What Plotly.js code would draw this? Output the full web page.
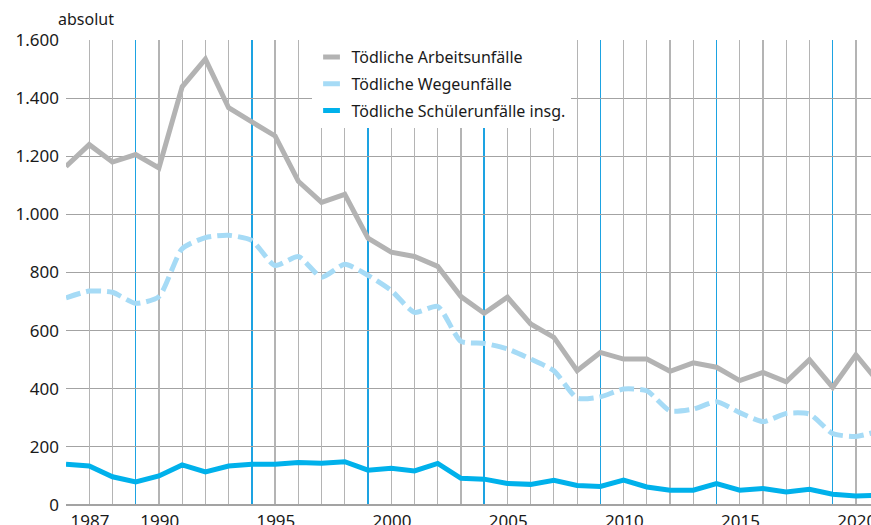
<!DOCTYPE html>
<html>
<head>
<meta charset="utf-8">
<script src="https://cdn.plot.ly/plotly-3.0.1.min.js"></script>
<style>html,body{margin:0;padding:0;background:#fff;}#chart{width:871px;height:525px;}</style>
</head>
<body>
<div id="chart"></div>
<script>
const years = [1987,1988,1989,1990,1991,1992,1993,1994,1995,1996,1997,1998,1999,2000,2001,2002,2003,2004,2005,2006,2007,2008,2009,2010,2011,2012,2013,2014,2015,2016,2017,2018,2019,2020,2021,2022];
const arbeitsunfaelle = [1165,1240,1180,1206,1160,1439,1534,1367,1318,1270,1114,1041,1069,918,870,855,821,717,660,715,623,577,462,525,502,502,460,489,474,428,456,424,500,405,517,420];
const wegeunfaelle = [713,736,732,694,717,882,920,928,910,824,855,784,828,790,738,663,683,563,556,537,502,462,368,372,399,393,324,330,355,318,287,315,313,246,236,255];
const schuelerunfaelle = [140,134,97,79,100,138,114,134,140,140,146,144,149,120,126,117,143,92,89,74,71,85,67,64,86,62,51,51,74,51,57,45,54,37,31,34];
const seriesNames = ['Tödliche Arbeitsunfälle','Tödliche Wegeunfälle','Tödliche Schülerunfälle insg.'];
const labelYears = [1987,1990,1995,2000,2005,2010,2015,2020];
const yTicks = [0,200,400,600,800,1000,1200,1400,1600];

const cGray = '#b3b3b3', cLight = '#a6dbf6', cBlue = '#00b1eb';
const font = 'Noto Sans, Open Sans, sans-serif';
const xRange = [1987, 2021.65];

const traces = [
  {x: [null], y: [null], xaxis: 'x2', yaxis: 'y', mode: 'lines', showlegend: false, hoverinfo: 'skip'},
  {x: years, y: arbeitsunfaelle, mode: 'lines', line: {color: cGray, width: 5}, showlegend: false, hoverinfo: 'skip'},
  {x: years, y: wegeunfaelle, mode: 'lines', line: {color: cLight, width: 5, dash: '15px,6px', shape: 'spline', smoothing: 0.6}, showlegend: false, hoverinfo: 'skip'},
  {x: years, y: schuelerunfaelle, mode: 'lines', line: {color: cBlue, width: 5}, showlegend: false, hoverinfo: 'skip'}
];
[cGray, cLight, cBlue].forEach((c, i) => {
  traces.push({x: [null], y: [null], mode: 'markers', name: seriesNames[i], legendgroup: 'g' + i,
    marker: {symbol: 'line-ew', size: 12, line: {color: c, width: 6}}, showlegend: true});
});

const otherYears = years.filter(y => !labelYears.includes(y));

const layout = {
  width: 871, height: 525,
  margin: {l: 66, r: 0, t: 40, b: 20},
  paper_bgcolor: '#fff', plot_bgcolor: '#fff',
  separators: ',.',
  font: {family: font, size: 17, color: '#1a1a1a'},
  showlegend: true,
  legend: {x: 0.305, y: 1.0, xanchor: 'left', yanchor: 'top', bgcolor: '#fff',
    font: {family: font, size: 16, color: '#1a1a1a'}, tracegroupgap: 3, itemwidth: 30},
  xaxis: {
    range: xRange, tickmode: 'array', tickvals: labelYears,
    showgrid: true, gridcolor: '#1da3e2', gridwidth: 1.5,
    ticks: '', ticklabelshift: 24, ticklabelstandoff: 4, ticklabeloverflow: 'allow',
    zeroline: false, showline: false, fixedrange: true,
    tickfont: {family: font, size: 17, color: '#1a1a1a'}
  },
  xaxis2: {
    range: xRange, overlaying: 'x', anchor: 'y', side: 'bottom', tickmode: 'array', tickvals: otherYears,
    showgrid: true, gridcolor: '#b4b4b4', gridwidth: 1.2, showticklabels: false,
    ticks: '', zeroline: false, showline: false, fixedrange: true
  },
  yaxis: {
    range: [0, 1600], tickmode: 'array', tickvals: yTicks, separatethousands: true,
    showgrid: true, gridcolor: '#a3a3a3', gridwidth: 1.2,
    zeroline: true, zerolinecolor: '#a3a3a3', zerolinewidth: 1.2,
    ticks: '', ticklabelstandoff: 6, showline: false, fixedrange: true,
    tickfont: {family: font, size: 17, color: '#1a1a1a'}
  },
  annotations: [{text: 'absolut', xref: 'paper', yref: 'paper', x: 0, y: 1, xshift: -10, yshift: 8,
    xanchor: 'left', yanchor: 'bottom', showarrow: false, font: {family: font, size: 16, color: '#1a1a1a'}}]
};

Plotly.newPlot('chart', traces, layout, {displayModeBar: false, staticPlot: true});
</script>
</body>
</html>
